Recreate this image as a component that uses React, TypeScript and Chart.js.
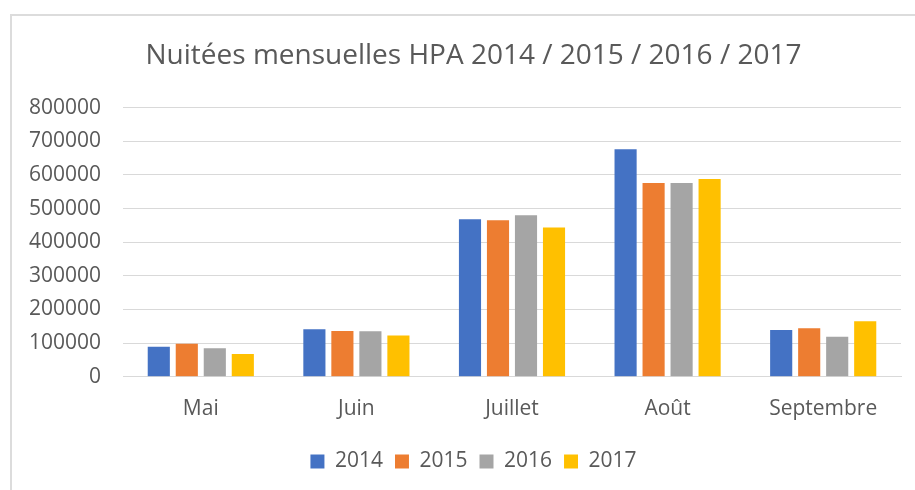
import React, { useEffect, useRef } from "react";
import { Chart, registerables } from "chart.js";

Chart.register(...registerables);

const categories = ["Mai", "Juin", "Juillet", "Août", "Septembre"];
const seriesLabels = ["2014", "2015", "2016", "2017"];
const values2014 = [89000, 141000, 468000, 676000, 139000];
const values2015 = [98000, 136000, 465000, 576000, 144000];
const values2016 = [85000, 135000, 480000, 576000, 119000];
const values2017 = [68000, 123000, 444000, 588000, 165000];
const colors = ["#4472C4", "#ED7D31", "#A5A5A5", "#FFC000"];
const titleText = "Nuitées mensuelles HPA 2014 / 2015 / 2016 / 2017";

const DX = 13;

const shiftPlugin = {
  id: "shiftTitleLegend",
  afterUpdate(chart: any) {
    const t = chart.titleBlock;
    if (t) {
      t.left += DX;
      t.right += DX;
    }
    const lg = chart.legend;
    if (lg) {
      lg.left += DX;
      lg.right += DX;
    }
  },
};

export default function App() {
  const ref = useRef<HTMLCanvasElement>(null);
  useEffect(() => {
    if (!ref.current) return;
    const font = "'Open Sans', 'Liberation Sans', sans-serif";
    const data = [values2014, values2015, values2016, values2017];
    const chart = new Chart(ref.current, {
      type: "bar",
      data: {
        labels: categories,
        datasets: seriesLabels.map((l, i) => ({
          label: l,
          data: data[i],
          backgroundColor: colors[i],
          borderWidth: 0,
          categoryPercentage: 0.72,
          barPercentage: 0.79,
        })),
      },
      plugins: [shiftPlugin],
      options: {
        animation: false,
        responsive: false,
        events: [],
        layout: { padding: { left: 20, right: 14, top: 39, bottom: 8 } },
        plugins: {
          title: {
            display: true,
            text: titleText,
            color: "#595959",
            font: { family: font, size: 28, weight: "normal" },
            padding: { top: 0, bottom: 35 },
          },
          legend: {
            position: "bottom",
            labels: {
              color: "#595959",
              font: { family: font, size: 21 },
              boxWidth: 14,
              boxHeight: 14,
              padding: 12,
            },
          },
          tooltip: { enabled: false },
        },
        scales: {
          x: {
            grid: { display: false },
            border: { color: "#D9D9D9" },
            ticks: { color: "#595959", font: { family: font, size: 21 }, padding: 12 },
            afterFit: (s: any) => {
              s.height += 5;
            },
          },
          y: {
            min: 0,
            max: 800000,
            grid: { color: "#D9D9D9", lineWidth: 1, tickLength: 0, drawTicks: false },
            border: { display: false },
            ticks: {
              stepSize: 100000,
              color: "#595959",
              font: { family: font, size: 21 },
              padding: 22,
              callback: (v: any) => String(v),
            },
            afterFit: (s: any) => {
              s.width = 103;
            },
          },
        },
      },
    });
    return () => chart.destroy();
  }, []);
  return (
    <div style={{ position: "fixed", left: 0, top: 0, width: 915, height: 490, background: "#fff", overflow: "hidden" }}>
      <div
        style={{
          position: "absolute",
          left: 10,
          top: 14,
          width: 920,
          height: 490,
          border: "2px solid #DCDCDC",
          boxSizing: "border-box",
        }}
      />
      <canvas ref={ref} width={915} height={490} style={{ position: "absolute", left: 0, top: 0 }} />
    </div>
  );
}
